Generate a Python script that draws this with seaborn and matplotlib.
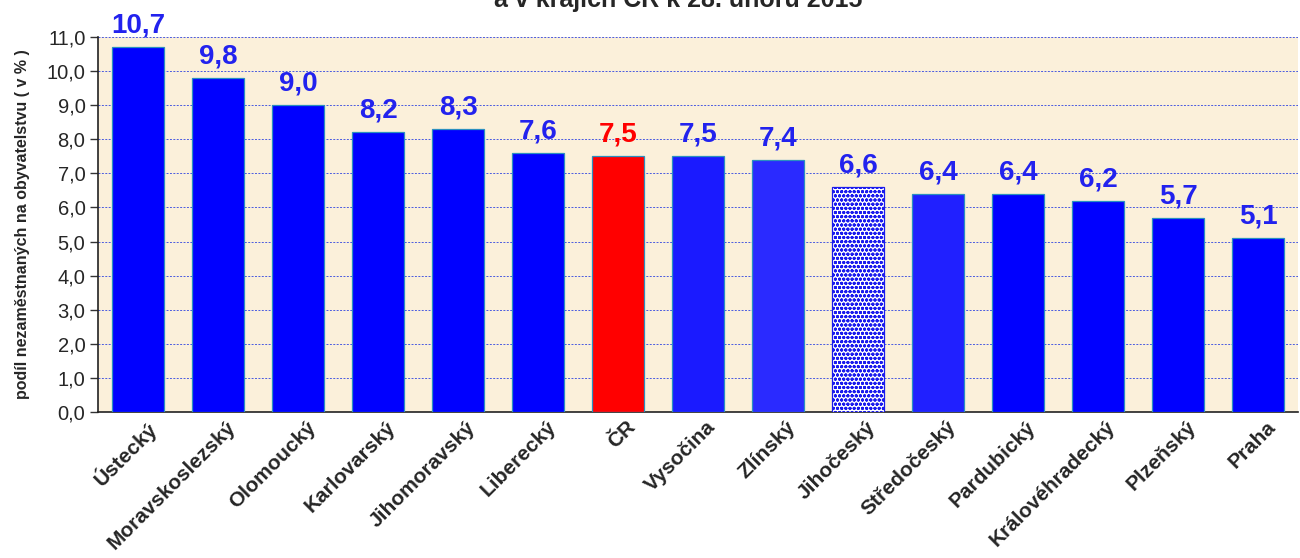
import matplotlib
matplotlib.use("Agg")
import matplotlib.pyplot as plt
import matplotlib.transforms as mtransforms
import numpy as np
import pandas as pd
import seaborn as sns

# data
regions = ['Ústecký', 'Moravskoslezský', 'Olomoucký', 'Karlovarský', 'Jihomoravský',
           'Liberecký', 'ČR', 'Vysočina', 'Zlínský', 'Jihočeský', 'Středočeský',
           'Pardubický', 'Královéhradecký', 'Plzeňský', 'Praha']
values = [10.7, 9.8, 9.0, 8.2, 8.3, 7.6, 7.5, 7.5, 7.4, 6.6, 6.4, 6.4, 6.2, 5.7, 5.1]
bar_colors = ['#0000ff', '#0000ff', '#0000ff', '#0000ff', '#0000ff', '#0000ff', '#ff0000',
              '#1a1aff', '#2a2aff', '#ffffff', '#2020ff', '#0000ff', '#0000ff', '#0000ff', '#0000ff']
label_colors = ['#2222ee'] * 6 + ['#ff0000'] + ['#2222ee'] * 8
y_ticks = np.arange(0, 11.5, 1.0)
title = 'a v krajích ČR k 28. únoru 2015'
ylabel = 'podíl nezaměstnaných na obyvatelstvu ( v % )'

df = pd.DataFrame({'kraj': regions, 'podil': values})

sns.set_style('white')
plt.rcParams['font.family'] = ['Liberation Sans', 'DejaVu Sans']
plt.rcParams['hatch.linewidth'] = 1.0

fig = plt.figure(figsize=(13, 5.58), dpi=100)
ax = fig.add_axes([98 / 1300, 1 - 412 / 558, 1200 / 1300, 375 / 558])
ax.set_facecolor('#fbf0da')

sns.barplot(data=df, x='kraj', y='podil', hue='kraj', palette=dict(zip(regions, bar_colors)),
            saturation=1, legend=False, width=0.64, edgecolor='#2a8fc0', linewidth=0.9,
            ax=ax, zorder=3)

# hatched bar for Jihočeský
for patch, name in zip(ax.patches, regions):
    if name == 'Jihočeský':
        patch.set_hatch('oooo')
        patch.set_edgecolor('#1a1aee')

ax.set_ylim(0, 11)
ax.set_xlim(-0.5, len(regions) - 0.5)
ax.set_yticks(y_ticks)
ax.set_yticklabels([f'{v:.1f}'.replace('.', ',') for v in y_ticks], fontsize=14.5)
ax.yaxis.grid(True, color='#4a5be0', linestyle=(0, (2, 1.5)), linewidth=0.7, zorder=0)
ax.set_axisbelow(True)

ax.set_xticks(range(len(regions)))
ax.set_xticklabels(regions, rotation=45, ha='right', rotation_mode='anchor',
                   fontsize=15, fontweight='bold')
ax.tick_params(axis='x', which='major', length=0, pad=4)
# nudge the rotated labels a bit to the right
shift = mtransforms.ScaledTranslation(8 / 100, 0, fig.dpi_scale_trans)
for lbl in ax.get_xticklabels():
    lbl.set_transform(lbl.get_transform() + shift)
ax.set_xticks(np.arange(-0.5, len(regions), 1.0), minor=True)
ax.tick_params(axis='x', which='minor', length=6, width=1, color='#333333', direction='out')
ax.tick_params(axis='y', length=6, width=1, color='#333333', direction='out', left=True, pad=3)

for s in ['top', 'right']:
    ax.spines[s].set_visible(False)
for s in ['left', 'bottom']:
    ax.spines[s].set_color('#222222')
    ax.spines[s].set_linewidth(1.2)

for i, (v, c) in enumerate(zip(values, label_colors)):
    ax.text(i, v + 0.25, f'{v:.1f}'.replace('.', ','), ha='center', va='bottom',
            fontsize=20, fontweight='bold', color=c)

ax.set_xlabel('')
ax.set_ylabel(ylabel, fontsize=11.5, fontweight='bold', labelpad=12)

fig.text(0.522, 1 - 7 / 558, title, ha='center', va='baseline', fontsize=18, fontweight='bold')

fig.savefig('out.png', dpi=100, facecolor='white')
